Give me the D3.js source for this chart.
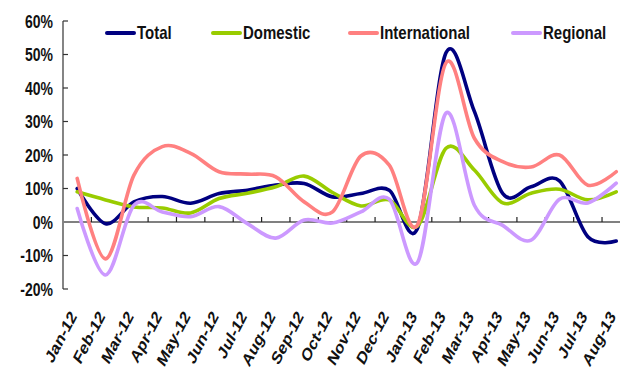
<!DOCTYPE html>
<html>
<head>
<meta charset="utf-8">
<script src="https://cdn.jsdelivr.net/npm/d3@7"></script>
<style>
  html, body { margin: 0; padding: 0; background: #fff; }
  svg { display: block; font-family: Arial, "Liberation Sans", sans-serif; font-weight: bold; }
</style>
</head>
<body>
<svg id="chart" width="620" height="370"></svg>
<script>
// Monthly growth rates (%), Jan-12 .. Aug-13
const months = ["Jan-12","Feb-12","Mar-12","Apr-12","May-12","Jun-12","Jul-12","Aug-12","Sep-12","Oct-12",
                "Nov-12","Dec-12","Jan-13","Feb-13","Mar-13","Apr-13","May-13","Jun-13","Jul-13","Aug-13"];
const total         = [10, -0.5, 6, 7.6, 5.6, 8.5, 9.5, 11, 11.5, 7.5, 8.5, 9.5, -1.8, 50.5, 33, 8.5, 10.5, 12.3, -4.4, -5.7];
const domestic      = [9, 6.6, 4.5, 4.2, 2.7, 7, 8.6, 10.5, 13.7, 8.8, 4.8, 6.6, -1.2, 22, 15.5, 5.7, 8.6, 9.8, 6.6, 9];
const international = [13, -11, 14, 22.5, 20.5, 15, 14.3, 13.5, 6, 3, 19.7, 17, -0.8, 47.5, 25, 18, 16.4, 20, 11, 15];
const regional      = [4, -15.8, 5, 3, 1.6, 4.6, -0.5, -4.8, 0.6, -0.3, 3, 6.8, -12, 32.5, 5, -1, -5.4, 6.8, 5.7, 11.6];
const seriesNames   = ["Total", "Domestic", "International", "Regional"];
const seriesColors  = ["#000080", "#99cc00", "#ff8080", "#cc99ff"];
const yTicks        = [-20, -10, 0, 10, 20, 30, 40, 50, 60];

const series = [total, domestic, international, regional].map((values, i) => ({
  name: seriesNames[i], color: seriesColors[i], values
}));

const svg = d3.select("#chart");
const plotLeft = 63, plotTop = 21, plotBottom = 289;
const band = 28.37;
const x = d3.scaleBand().domain(months).range([plotLeft, plotLeft + band * months.length]);
const y = d3.scaleLinear().domain([-20, 60]).range([plotBottom, plotTop]);

// Y axis: ticks pointing inward
const yAxis = svg.append("g").attr("transform", `translate(${plotLeft},0)`);
yAxis.append("line").attr("x1", 0).attr("x2", 0).attr("y1", y(60)).attr("y2", y(-20))
  .attr("stroke", "#333").attr("stroke-width", 1.2);
yAxis.selectAll("line.tick").data(yTicks).join("line").attr("class", "tick")
  .attr("x1", 0).attr("x2", 5).attr("y1", d => y(d)).attr("y2", d => y(d))
  .attr("stroke", "#333").attr("stroke-width", 1.2);
yAxis.selectAll("text").data(yTicks).join("text")
  .attr("transform", d => `translate(-10,${y(d)}) scale(1,1.3)`)
  .attr("text-anchor", "end").attr("dy", "0.36em")
  .attr("font-size", 14).attr("fill", "#111")
  .text(d => d + "%");

// X axis at 0%, ticks between categories
const x0 = y(0);
svg.append("line").attr("x1", plotLeft).attr("x2", 620).attr("y1", x0).attr("y2", x0)
  .attr("stroke", "#808080").attr("stroke-width", 2);
svg.selectAll("line.xtick").data(months.slice(1)).join("line").attr("class", "xtick")
  .attr("x1", d => x(d)).attr("x2", d => x(d)).attr("y1", x0).attr("y2", x0 - 5)
  .attr("stroke", "#222").attr("stroke-width", 1.2);

// Category labels, slanted and slightly stretched vertically
svg.append("g").selectAll("text").data(months).join("text")
  .attr("transform", d => `translate(${x(d) + x.bandwidth() / 2 - 4},${313}) scale(1,1.3) rotate(-56)`)
  .attr("text-anchor", "end").attr("dy", "0.35em")
  .attr("font-size", 14).attr("fill", "#111")
  .text(d => d);

// Smoothed series lines
const line = d3.line()
  .x((d, i) => x(months[i]) + x.bandwidth() / 2)
  .y(d => y(d))
  .curve(d3.curveCatmullRom.alpha(0));

svg.append("g").selectAll("path").data(series).join("path")
  .attr("d", d => line(d.values))
  .attr("fill", "none")
  .attr("stroke", d => d.color)
  .attr("stroke-width", 3.6)
  .attr("stroke-linejoin", "round")
  .attr("stroke-linecap", "round");

// Legend
const legendX = [107, 213, 350, 513];
const lg = svg.append("g").selectAll("g").data(series).join("g")
  .attr("transform", (d, i) => `translate(${legendX[i]},33)`);
lg.append("line").attr("x1", 0).attr("x2", 27).attr("y1", 0).attr("y2", 0)
  .attr("stroke", d => d.color).attr("stroke-width", 4).attr("stroke-linecap", "round");
lg.append("text").attr("transform", "translate(30,0) scale(1,1.2)")
  .attr("dy", "0.36em").attr("font-size", 15).attr("fill", "#111")
  .text(d => d.name);
</script>
</body>
</html>
